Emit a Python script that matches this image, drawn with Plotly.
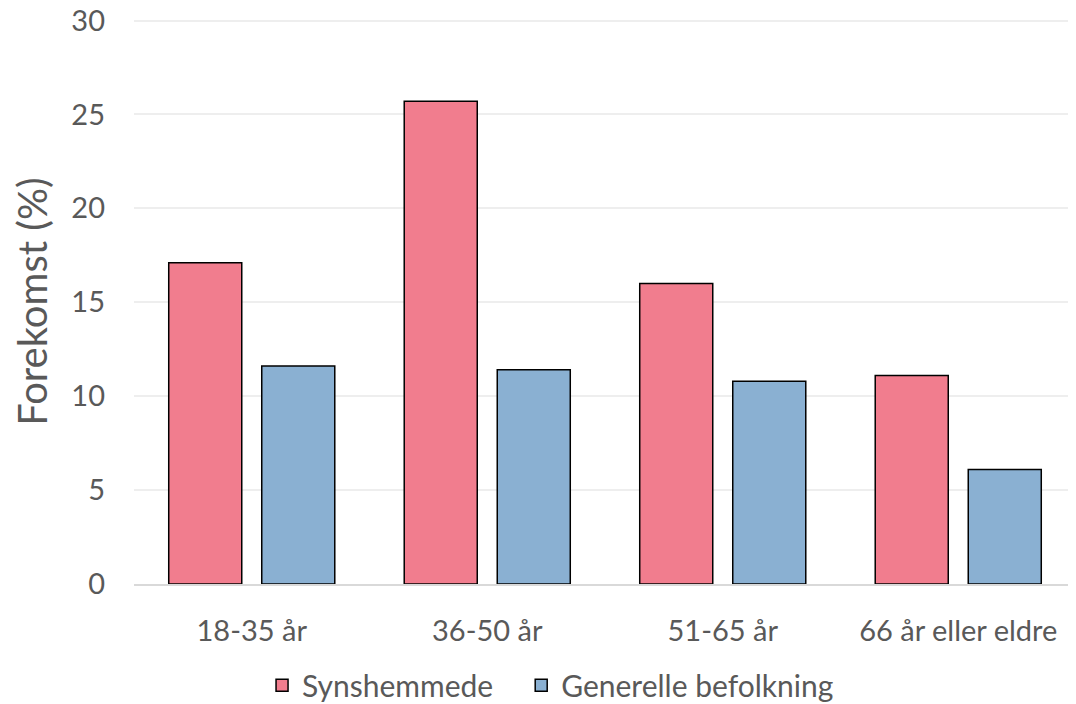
import plotly.graph_objects as go

categories = ["18-35 år", "36-50 år", "51-65 år", "66 år eller eldre"]
synshemmede = [17.1, 25.7, 16.0, 11.1]
generelle = [11.6, 11.4, 10.8, 6.1]
y_ticks = [0, 5, 10, 15, 20, 25, 30]
series_names = ["Synshemmede", "Generelle befolkning"]

FONT = "Lato, 'Open Sans', sans-serif"
TXT = "#595959"
PAD = "\u00a0" * 3

fig = go.Figure()
fig.add_trace(go.Bar(x=categories, y=synshemmede, name=series_names[0] + PAD,
                     marker=dict(color="#F17D8E", line=dict(color="#000000", width=1.5))))
fig.add_trace(go.Bar(x=categories, y=generelle, name=series_names[1],
                     marker=dict(color="#8AB0D2", line=dict(color="#000000", width=1.5))))

fig.update_layout(
    width=1068, height=696,
    margin=dict(l=126, r=0, t=11, b=120, autoexpand=False),
    paper_bgcolor="white", plot_bgcolor="white",
    barmode="group", bargap=0.21, bargroupgap=0.215,
    font=dict(family=FONT, color=TXT, size=29),
    legend=dict(orientation="h", xref="container", x=0.508, xanchor="center",
                yref="paper", y=-0.179, yanchor="middle",
                font=dict(size=30, color=TXT), itemwidth=30,
                bgcolor="rgba(0,0,0,0)", traceorder="normal"),
    xaxis=dict(showgrid=False, showline=True, linecolor="#D9D9D9", linewidth=1.5,
               ticks="", tickfont=dict(size=29, color=TXT), ticklabelstandoff=20,
               automargin=False),
    yaxis=dict(range=[0, 30.08], tickvals=y_ticks, showgrid=True, gridcolor="#EEEEEE",
               gridwidth=1.5, zeroline=False, showline=False, ticks="",
               tickfont=dict(size=29, color=TXT), ticklabelstandoff=28, automargin=False,
               ticklabeloverflow="allow",
               title=dict(text="Forekomst (%)", font=dict(size=40, color=TXT), standoff=12)),
)

fig.write_html("out.html")
